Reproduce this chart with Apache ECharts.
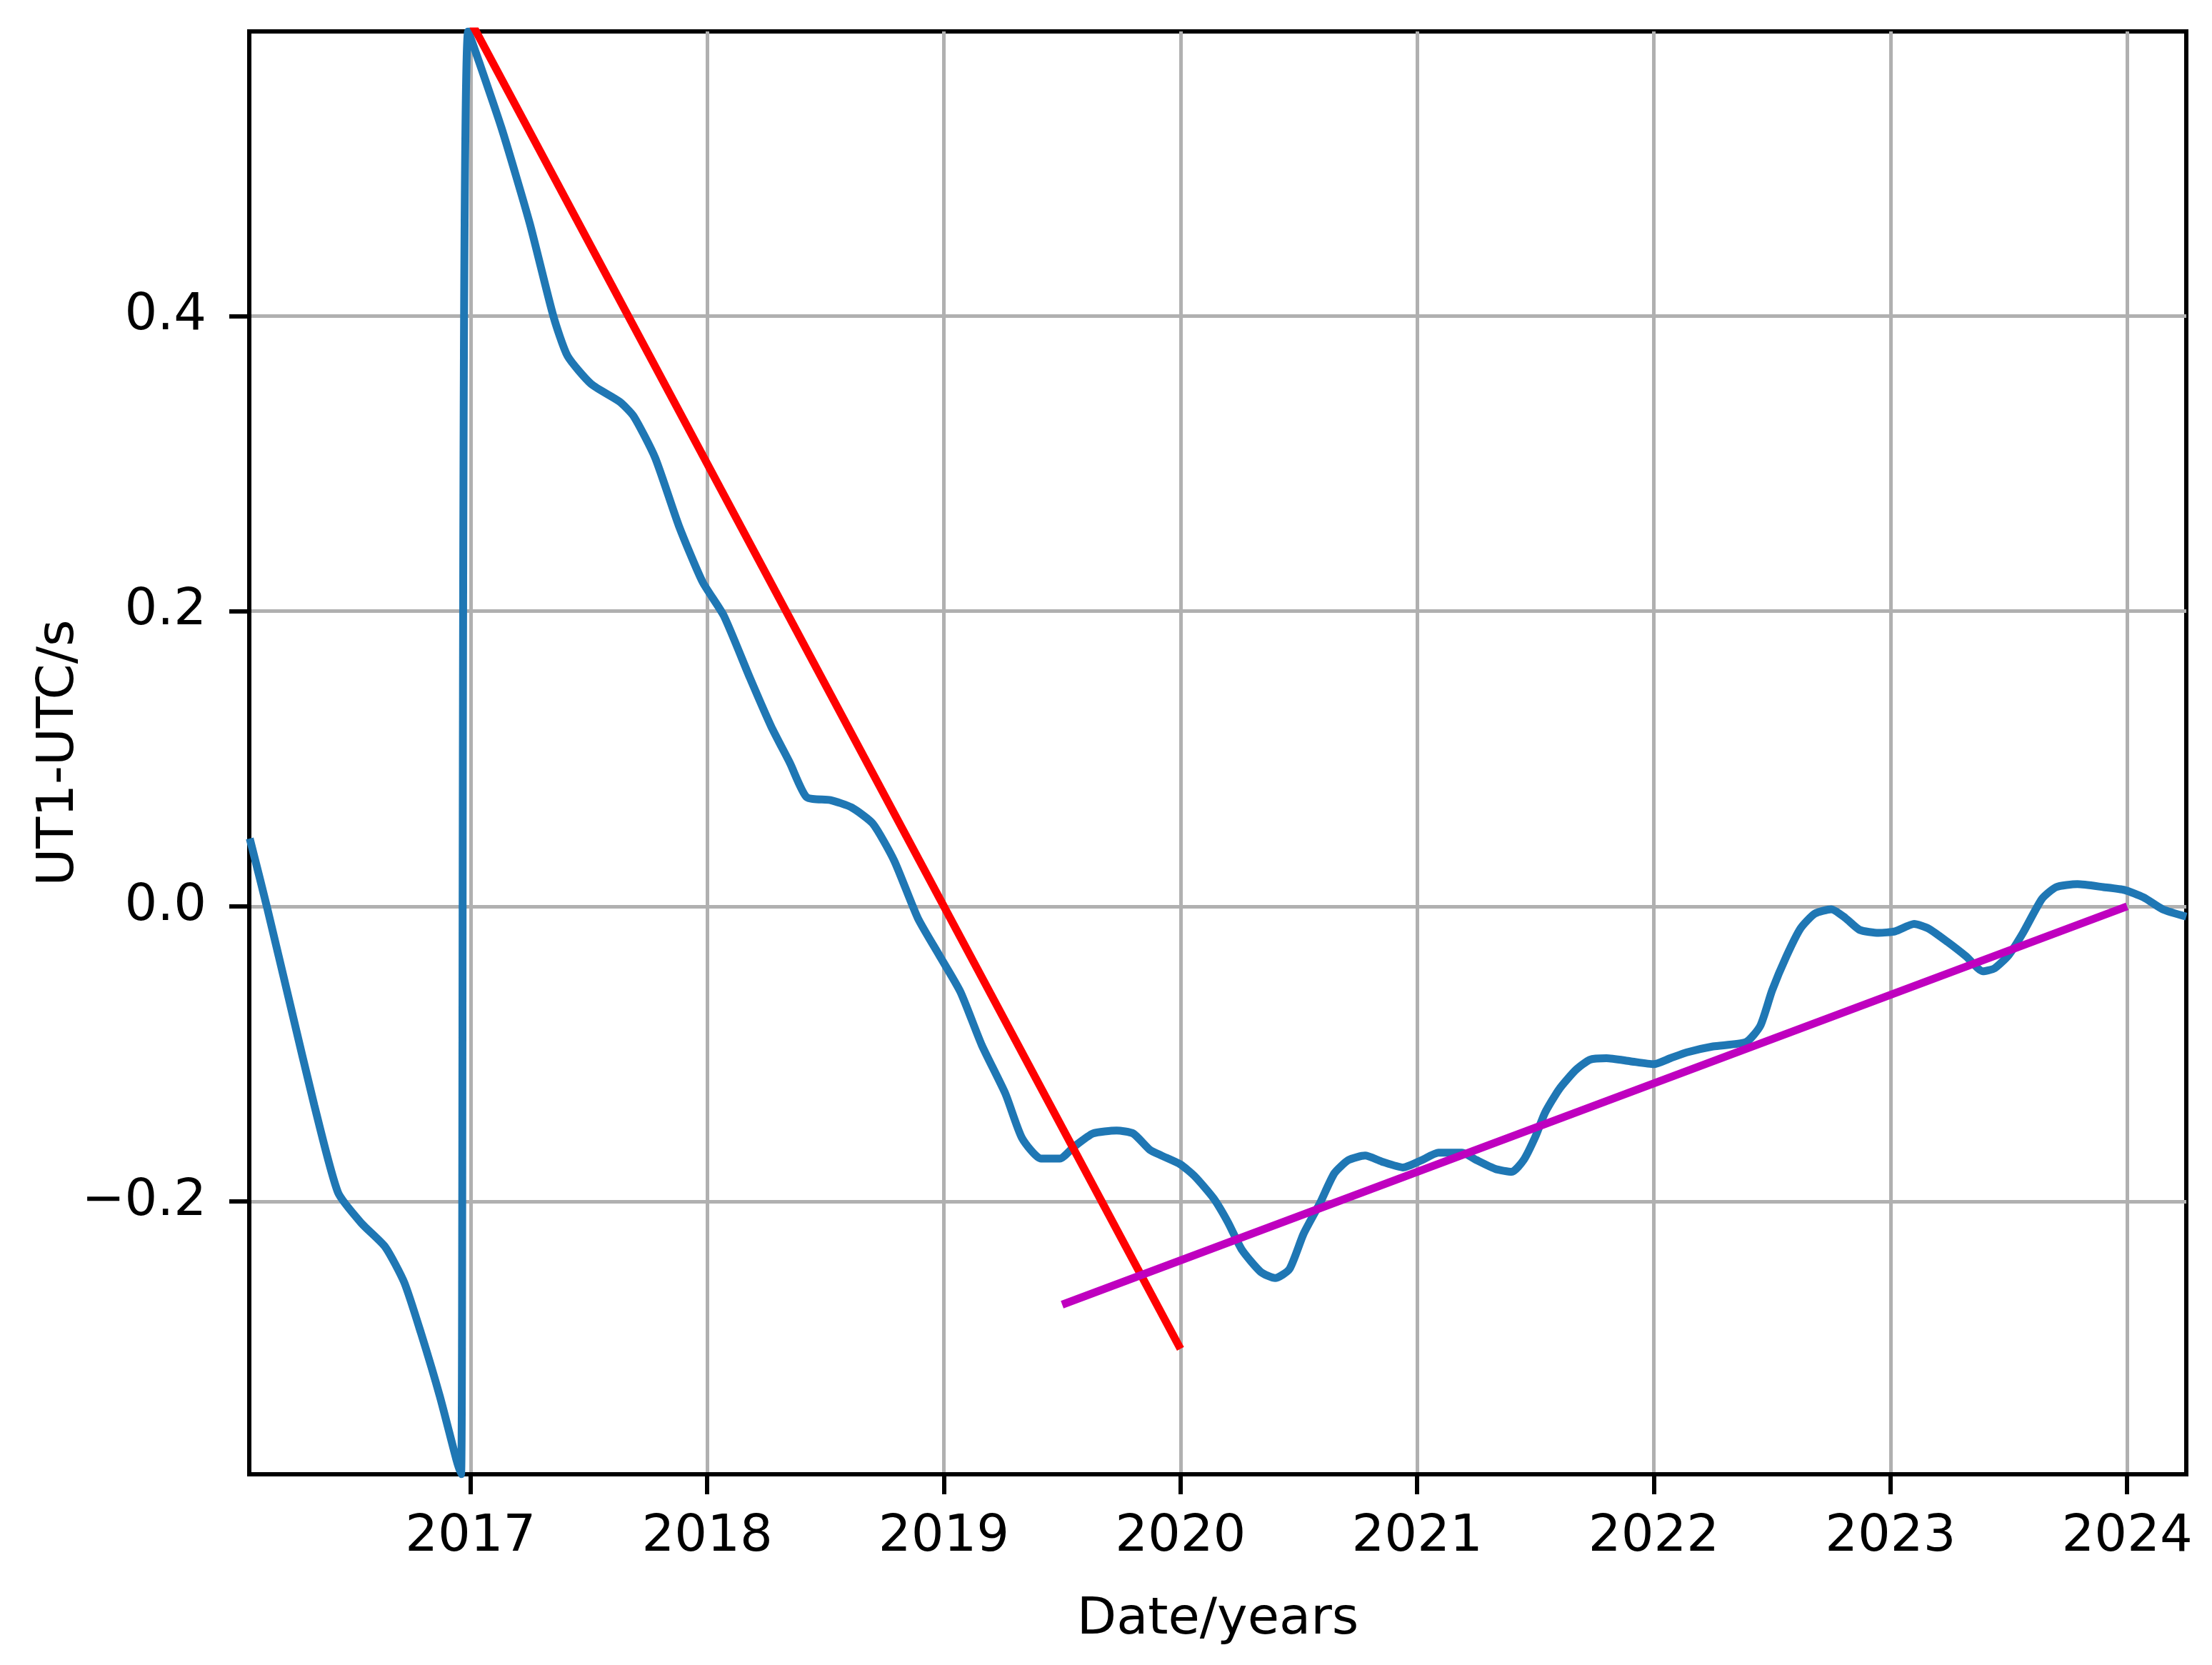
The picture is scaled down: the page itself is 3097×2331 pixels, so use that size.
<!DOCTYPE html>
<html>
<head>
<meta charset="utf-8">
<script src="https://cdn.jsdelivr.net/npm/echarts@6/dist/echarts.min.js"></script>
<style>
  html, body { margin: 0; padding: 0; background: #fff; }
  #chart { width: 3097px; height: 2331px; }
</style>
</head>
<body>
<div id="chart"></div>
<script>
// UT1-UTC series (years, seconds)
var dates = [
    2016.067, 2016.139, 2016.24, 2016.34, 2016.44, 2016.54, 2016.64, 2016.72, 2016.79, 2016.87,
    2016.94, 2016.96, 2016.99, 2017.13, 2017.25, 2017.35, 2017.41, 2017.51, 2017.63, 2017.69,
    2017.78, 2017.88, 2017.98, 2018.07, 2018.18, 2018.27, 2018.35, 2018.42, 2018.52, 2018.61,
    2018.70, 2018.79, 2018.89, 2018.98, 2019.07, 2019.16, 2019.26, 2019.33, 2019.41, 2019.49,
    2019.55, 2019.63, 2019.73, 2019.80, 2019.87, 2019.92, 2020.00, 2020.06, 2020.14, 2020.20,
    2020.26, 2020.34, 2020.40, 2020.46, 2020.52, 2020.59, 2020.65, 2020.71, 2020.78, 2020.85,
    2020.94, 2021.02, 2021.09, 2021.19, 2021.25, 2021.33, 2021.40, 2021.45, 2021.50, 2021.54,
    2021.60, 2021.67, 2021.73, 2021.80, 2021.90, 2022.00, 2022.07, 2022.14, 2022.25, 2022.39,
    2022.45, 2022.50, 2022.56, 2022.62, 2022.68, 2022.75, 2022.81, 2022.87, 2022.95, 2023.02,
    2023.10, 2023.16, 2023.24, 2023.32, 2023.39, 2023.44, 2023.50, 2023.56, 2023.64, 2023.70,
    2023.79, 2023.90, 2023.99, 2024.07, 2024.15, 2024.25
];
var ut1utc = [
    0.046, 0.0, -0.068, -0.135, -0.194, -0.215, -0.231, -0.255, -0.289, -0.332,
    -0.375, -0.385, 0.593, 0.528, 0.463, 0.400, 0.373, 0.354, 0.342, 0.332,
    0.304, 0.258, 0.220, 0.197, 0.155, 0.122, 0.097, 0.074, 0.072, 0.067,
    0.056, 0.031, -0.008, -0.033, -0.058, -0.094, -0.127, -0.157, -0.171, -0.171,
    -0.163, -0.154, -0.152, -0.154, -0.165, -0.169, -0.175, -0.183, -0.198, -0.214,
    -0.233, -0.248, -0.252, -0.246, -0.222, -0.201, -0.181, -0.172, -0.169, -0.173,
    -0.177, -0.172, -0.167, -0.167, -0.172, -0.178, -0.180, -0.172, -0.156, -0.140,
    -0.124, -0.111, -0.104, -0.103, -0.105, -0.107, -0.103, -0.099, -0.095, -0.092,
    -0.081, -0.057, -0.034, -0.015, -0.005, -0.002, -0.008, -0.016, -0.018, -0.017,
    -0.012, -0.015, -0.024, -0.034, -0.044, -0.042, -0.033, -0.018, 0.005, 0.013,
    0.015, 0.013, 0.011, 0.006, -0.002, -0.007
];

// fitted trend lines (start/end points)
var fit1Dates = [2017.0, 2020.0];
var fit1Values = [0.600, -0.300];
var fit2Dates = [2019.5, 2024.0];
var fit2Values = [-0.270, 0.000];

// tick positions
var xTicks = [2017, 2018, 2019, 2020, 2021, 2022, 2023, 2024];
var yTicks = [-0.2, 0.0, 0.2, 0.4];

function pairs(xs, ys) {
    var out = [];
    for (var i = 0; i < xs.length; i++) out.push([xs[i], ys[i]]);
    return out;
}

var chart = echarts.init(document.getElementById('chart'));

var font = 'DejaVu Sans';

var option = {
    animation: false,
    backgroundColor: '#ffffff',
    textStyle: { fontFamily: font },
    grid: {
        left: 349,
        right: 36,
        top: 44,
        bottom: 267,
        show: true,
        borderColor: '#000',
        borderWidth: 6
    },
    xAxis: {
        type: 'value',
        min: 2016.065,
        max: 2024.25,
        position: 'bottom',
        name: 'Date/years',
        nameLocation: 'middle',
        nameGap: 168,
        nameMoveOverlap: false,
        nameTextStyle: { fontSize: 72, color: '#000', fontFamily: font },
        axisLine: { show: true, onZero: false, lineStyle: { color: '#000', width: 6 } },
        axisTick: {
            show: true,
            length: 28,
            customValues: xTicks,
            lineStyle: { color: '#000', width: 6 }
        },
        axisLabel: {
            customValues: xTicks,
            margin: 52,
            fontSize: 72,
            color: '#000',
            fontFamily: font,
            formatter: function (v) { return String(Math.round(v)); }
        },
        splitLine: {
            show: true,
            lineStyle: { color: '#b0b0b0', width: 5 }
        }
    },
    yAxis: {
        type: 'value',
        min: -0.385,
        max: 0.593,
        position: 'left',
        name: 'UT1-UTC/s',
        nameLocation: 'middle',
        nameGap: 230,
        nameRotate: 90,
        nameMoveOverlap: false,
        nameTextStyle: { fontSize: 72, color: '#000', fontFamily: font },
        axisLine: { show: true, onZero: false, lineStyle: { color: '#000', width: 6 } },
        axisTick: {
            show: true,
            length: 28,
            customValues: yTicks,
            lineStyle: { color: '#000', width: 6 }
        },
        axisLabel: {
            customValues: yTicks,
            margin: 60,
            fontSize: 72,
            color: '#000',
            fontFamily: font,
            formatter: function (v) {
                var s = Math.abs(v).toFixed(1);
                return v < -1e-9 ? '\u2212' + s : s;
            }
        },
        splitLine: {
            show: true,
            lineStyle: { color: '#b0b0b0', width: 5 }
        }
    },
    series: [
        {
            name: 'UT1-UTC',
            type: 'line',
            data: pairs(dates, ut1utc),
            showSymbol: false,
            smooth: 0.2,
            clip: true,
            lineStyle: { color: '#1f77b4', width: 11 }
        },
        {
            name: 'fit 2017-2020',
            type: 'line',
            data: pairs(fit1Dates, fit1Values),
            showSymbol: false,
            clip: true,
            lineStyle: { color: '#ff0000', width: 11 }
        },
        {
            name: 'fit 2019.5-2024',
            type: 'line',
            data: pairs(fit2Dates, fit2Values),
            showSymbol: false,
            clip: true,
            lineStyle: { color: '#bf00bf', width: 11 }
        }
    ]
};

chart.setOption(option);
</script>
</body>
</html>
